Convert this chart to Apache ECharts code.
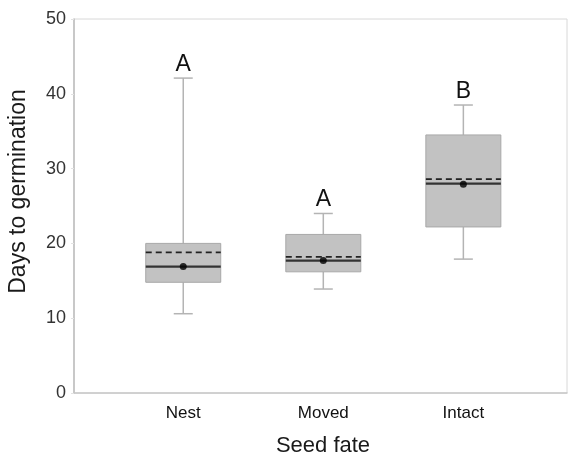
<!DOCTYPE html>
<html>
<head>
<meta charset="utf-8">
<script src="https://cdn.jsdelivr.net/npm/echarts@6/dist/echarts.min.js"></script>
<style>html,body{margin:0;padding:0;background:#fff}#c{width:570px;height:459px}</style>
</head>
<body>
<div id="c"></div>
<script>
const categories = ['Nest', 'Moved', 'Intact'];
const whiskerLow = [10.6, 13.9, 17.9];
const q1 = [14.8, 16.2, 22.2];
const median = [16.9, 17.7, 28.0];
const q3 = [20.0, 21.2, 34.5];
const whiskerHigh = [42.1, 24.0, 38.5];
const mean = [18.8, 18.2, 28.6];
const dots = [16.9, 17.7, 27.9];
const letters = ['A', 'A', 'B'];
const yTicks = [0, 10, 20, 30, 40, 50];

const FONT = 'Liberation Sans, Arial, sans-serif';
const rows = categories.map((c, i) => [i + 1, whiskerLow[i], q1[i], median[i], q3[i], whiskerHigh[i], mean[i]]);

function renderBox(params, api) {
  const x = api.value(0);
  const pLow = api.coord([x, api.value(1)]);
  const pQ1 = api.coord([x, api.value(2)]);
  const pMed = api.coord([x, api.value(3)]);
  const pQ3 = api.coord([x, api.value(4)]);
  const pHigh = api.coord([x, api.value(5)]);
  const pMean = api.coord([x, api.value(6)]);
  const half = 37.5, cap = 9.5;
  const cx = pMed[0];
  const wStyle = {stroke: '#b4b4b4', lineWidth: 1.5};
  return {
    type: 'group',
    children: [
      {type: 'line', shape: {x1: cx, y1: pHigh[1], x2: cx, y2: pQ3[1]}, style: wStyle},
      {type: 'line', shape: {x1: cx, y1: pQ1[1], x2: cx, y2: pLow[1]}, style: wStyle},
      {type: 'line', shape: {x1: cx - cap, y1: pHigh[1], x2: cx + cap, y2: pHigh[1]}, style: wStyle},
      {type: 'line', shape: {x1: cx - cap, y1: pLow[1], x2: cx + cap, y2: pLow[1]}, style: wStyle},
      {type: 'rect', shape: {x: cx - half, y: pQ3[1], width: half * 2, height: pQ1[1] - pQ3[1]},
        style: {fill: '#c2c2c2', stroke: '#a8a8a8', lineWidth: 1}},
      {type: 'line', shape: {x1: cx - half, y1: pMean[1], x2: cx + half, y2: pMean[1]},
        style: {stroke: '#222', lineWidth: 1.8, lineDash: [6, 4]}},
      {type: 'line', shape: {x1: cx - half, y1: pMed[1], x2: cx + half, y2: pMed[1]},
        style: {stroke: '#333', lineWidth: 2.2}},
      {type: 'text', x: cx, y: pHigh[1] - 2,
        style: {text: letters[params.dataIndex], fill: '#111', font: '23px ' + FONT,
          align: 'center', verticalAlign: 'bottom'}}
    ]
  };
}

const chart = echarts.init(document.getElementById('c'), null, {renderer: 'canvas'});
chart.setOption({
  backgroundColor: '#fff',
  animation: false,
  grid: {left: 74, right: 3, top: 19, bottom: 66, show: true, borderColor: '#d8d8d8', borderWidth: 1,
    containLabel: false, outerBoundsMode: 'none'},
  xAxis: {
    type: 'value', min: 0.22, max: 3.74,
    name: 'Seed fate', nameLocation: 'middle', nameGap: 42,
    nameTextStyle: {fontSize: 22, color: '#1a1a1a', fontFamily: FONT, padding: [0, 0, 0, 5]},
    axisLine: {show: true, lineStyle: {color: '#c8c8c8', width: 1.5}},
    axisTick: {show: false},
    splitLine: {show: false},
    axisLabel: {customValues: [1, 2, 3], formatter: v => categories[Math.round(v) - 1] || '',
      fontSize: 17, color: '#111', fontFamily: FONT, margin: 12}
  },
  yAxis: {
    type: 'value', min: 0, max: 50, interval: 10,
    name: 'Days to germination', nameLocation: 'middle', nameGap: 44,
    nameTextStyle: {fontSize: 23, color: '#1a1a1a', fontFamily: FONT, padding: [0, 0, 0, 29]},
    axisLine: {show: true, lineStyle: {color: '#bdbdbd', width: 1.5}},
    axisTick: {show: true, length: 3, lineStyle: {color: '#e2e2e2'}},
    splitLine: {show: false},
    axisLabel: {customValues: yTicks, fontSize: 18, color: '#333', fontFamily: FONT, margin: 8}
  },
  series: [
    {type: 'custom', renderItem: renderBox, data: rows, encode: {x: 0, y: [1, 5]}, z: 2},
    {type: 'scatter', data: dots.map((v, i) => [i + 1, v]), symbol: 'circle', symbolSize: 7,
      itemStyle: {color: '#000'}, z: 5}
  ]
});
</script>
</body>
</html>
